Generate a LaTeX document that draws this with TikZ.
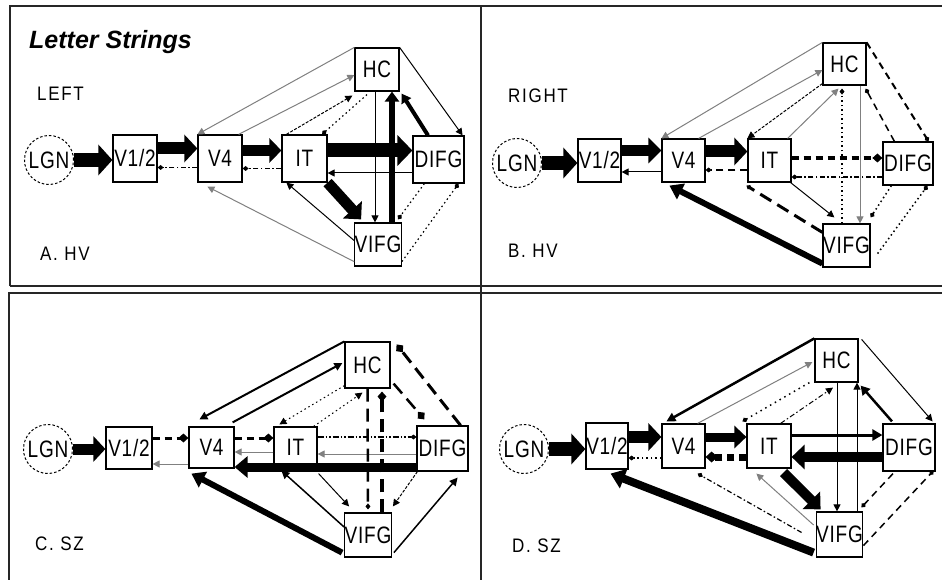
\documentclass[tikz,border=0pt]{standalone}
\usepackage{fontspec}
\usepackage{graphicx}
\setmainfont{Liberation Sans}
\newfontfamily\lab[LetterSpace=4]{Liberation Sans}
\newfontfamily\plab[LetterSpace=10]{Liberation Sans}
\newcommand{\boxlabel}[1]{\scalebox{1}[1.25]{#1}}
\newcommand{\panellabel}[1]{\scalebox{1}[1.15]{#1}}
\usetikzlibrary{arrows.meta}
\begin{document}
\begin{tikzpicture}[x=1pt,y=-1pt,
 bx/.style={draw, line width=1.2pt, fill=white, inner sep=0pt, font=\lab\fontsize{19pt}{19pt}\selectfont},
 lgn/.style={circle, draw, dash pattern=on 2.5pt off 2pt, line width=1pt, minimum size=49pt, inner sep=0pt, font=\lab\fontsize{19pt}{19pt}\selectfont},
 plbl/.style={anchor=base west, inner sep=0pt, font=\plab\fontsize{17pt}{17pt}\selectfont},
 arw/.style n args={3}{line width=#1,-{Triangle[length=#2,width=#3]}},
 tn/.style={line width=1pt,-{Triangle[length=7pt,width=7pt]}},
 gtn/.style={tn, draw=gray},
 dmd/.style={line width=#1,-{Diamond[length=6pt,width=5pt]}},
 dmdb/.style={line width=#1,-{Diamond[length=10pt,width=9pt]}},
 dotd/.style={dash pattern=on 1.5pt off 3pt},
 dashd/.style={dash pattern=on 7pt off 5pt},
 ldash/.style={dash pattern=on 13pt off 7pt},
 dashdot/.style={dash pattern=on 5pt off 2.5pt on 1.5pt off 2.5pt},
 dashdotdot/.style={dash pattern=on 6pt off 2pt on 1.5pt off 2pt on 1.5pt off 2pt},
 fined/.style={dash pattern=on 3pt off 1.5pt},
 frame/.style={line width=1.8pt, draw=black!85}
]
\fill[white] (0,0) rectangle (942,580);
\useasboundingbox (0,0) rectangle (942,580);
% frames
\draw[frame] (10,286) -- (10,6) -- (942,6);
\draw[frame] (10,286) -- (942,286);
\draw[frame] (9,580) -- (9,293) -- (942,293);
\draw[frame] (481,6) -- (481,580);

% ---------- Panel A ----------
\node[anchor=base west, inner sep=0pt, font=\fontsize{25pt}{25pt}\selectfont\bfseries\itshape] (ttl) at (29,49) {Letter Strings};
\node[plbl] (leftA) at (37,101) {\panellabel{LEFT}};
\node[plbl] (labA) at (40,260) {\panellabel{A. HV}};
\node[lgn] (lgnA) at (49,160) {\boxlabel{LGN}};
\node[bx, minimum width=44pt, minimum height=47pt] (v12A) at (135,158.5) {\boxlabel{V1/2}};
\node[bx, minimum width=44pt, minimum height=47pt] (v4A) at (220,158.5) {\boxlabel{V4}};
\node[bx, minimum width=45pt, minimum height=47pt] (itA) at (304.5,158.5) {\boxlabel{IT}};
\node[bx, minimum width=51pt, minimum height=47pt] (difgA) at (438.5,159.5) {\boxlabel{DIFG}};
\node[bx, minimum width=44pt, minimum height=43pt] (hcA) at (377,69.5) {\boxlabel{HC}};
\node[bx, minimum width=46pt, minimum height=43pt] (vifgA) at (378,244.5) {\boxlabel{VIFG}};

\draw[arw={14pt}{14pt}{30pt}] (lgnA.east) -- ([yshift=-1.5pt]v12A.west);
\draw[arw={12pt}{13pt}{27pt}] ([yshift=10pt]v12A.east) -- ([yshift=10pt]v4A.west);
\draw[dmd=1.2pt, dashdot] ([yshift=-9pt]v4A.west) -- ([yshift=-9pt]v12A.east);
\draw[arw={11pt}{12pt}{24pt}] ([yshift=8pt]v4A.east) -- ([yshift=8pt]itA.west);
\draw[dmd=1.2pt, dashdot] ([yshift=-10pt]itA.west) -- ([yshift=-10pt]v4A.east);
\draw[arw={14pt}{15pt}{30pt}] ([yshift=8pt]itA.east) -- ([yshift=9pt]difgA.west);
\draw[tn] ([yshift=-13.5pt]difgA.west) -- ([yshift=-14.5pt]itA.east);
\draw[gtn] (hcA.north west) -- (v4A.north west);
\draw[gtn] ([xshift=-4pt]v4A.north east) -- ([yshift=-5.5pt]hcA.west);
\draw[tn, fined] ([xshift=5pt]itA.north west) -- ([xshift=-2pt,yshift=-4pt]hcA.south west);
\draw[dmd=1.2pt, dotd] ([xshift=-10pt,yshift=-3pt]hcA.south) -- ([xshift=17.5pt]itA.north);
\draw[tn] ([xshift=-2pt]hcA.south) -- ([xshift=-3pt]vifgA.north);
\draw[arw={6pt}{10pt}{14pt}] ([xshift=14pt]vifgA.north) -- ([xshift=15pt]hcA.south);
\draw[arw={4pt}{9pt}{11pt}] ([xshift=-10.5pt]difgA.north) -- ([xshift=2pt,yshift=-2pt]hcA.south east);
\draw[tn] (hcA.north east) -- ([xshift=-2pt]difgA.north east);
\draw[arw={11pt}{13pt}{25pt}] (itA.south east) -- ([xshift=7pt,yshift=3pt]vifgA.north west);
\draw[tn] ([yshift=4pt]vifgA.west) -- ([xshift=5pt]itA.south west);
\draw[gtn] ([yshift=5pt]vifgA.south west) -- ([xshift=10pt,yshift=-4pt]v4A.south west);
\draw[dmd=1.2pt, dotd] ([xshift=12pt]difgA.south west) -- ([xshift=-4pt,yshift=3pt]vifgA.north east);
\draw[dmd=1.2pt, dotd] ([yshift=5pt]vifgA.south east) -- ([xshift=-6pt]difgA.south east);

% ---------- Panel B ----------
\node[plbl] (rightB) at (508,103) {\panellabel{RIGHT}};
\node[plbl] (labB) at (508,257) {\panellabel{B. HV}};
\node[lgn] (lgnB) at (517,163) {\boxlabel{LGN}};
\node[bx, minimum width=43pt, minimum height=43pt] (v12B) at (599.5,160.5) {\boxlabel{V1/2}};
\node[bx, minimum width=43pt, minimum height=43pt] (v4B) at (683.5,160.5) {\boxlabel{V4}};
\node[bx, minimum width=43pt, minimum height=43pt] (itB) at (769.5,160.5) {\boxlabel{IT}};
\node[bx, minimum width=50pt, minimum height=43pt] (difgB) at (908,163.5) {\boxlabel{DIFG}};
\node[bx, minimum width=43pt, minimum height=42pt] (hcB) at (844.5,64) {\boxlabel{HC}};
\node[bx, minimum width=47pt, minimum height=43pt] (vifgB) at (846.5,245.5) {\boxlabel{VIFG}};

\draw[arw={14pt}{14pt}{30pt}] (lgnB.east) -- ([yshift=-2.5pt]v12B.west);
\draw[arw={11pt}{13pt}{25pt}] ([yshift=10pt]v12B.east) -- ([yshift=10pt]v4B.west);
\draw[tn] ([yshift=-11.5pt]v4B.west) -- ([yshift=-11.5pt]v12B.east);
\draw[arw={12pt}{13pt}{27pt}] ([yshift=9pt]v4B.east) -- ([yshift=9pt]itB.west);
\draw[dmd=1.2pt, dashd] ([yshift=-9.5pt]itB.west) -- ([yshift=-9.5pt]v4B.east);
\draw[dmdb=4pt, dashd] ([yshift=2.5pt]itB.east) -- ([yshift=5.5pt]difgB.west);
\draw[dmd=1.2pt, dashdot] ([yshift=-13.5pt]difgB.west) -- ([yshift=-16.5pt]itB.east);
\draw[gtn] (hcB.north west) -- (v4B.north west);
\draw[gtn] ([xshift=-7pt]v4B.north east) -- ([yshift=-6pt]hcB.west);
\draw[tn, fined] ([yshift=2pt]hcB.south west) -- (itB.north west);
\draw[gtn] ([xshift=-4pt]itB.north east) -- ([xshift=-6pt,yshift=-3pt]hcB.south);
\draw[dmd=1.5pt, dotd] ([xshift=-4.5pt]vifgB.north) -- ([xshift=-2.5pt,yshift=-3pt]hcB.south);
\draw[gtn] ([xshift=15.5pt]hcB.south) -- ([xshift=13.5pt]vifgB.north);
\draw[dmd=1.5pt, dashd] ([xshift=12pt]difgB.north west) -- ([xshift=-1pt,yshift=-3pt]hcB.south east);
\draw[dmd=2pt, dashd] (hcB.north east) -- ([xshift=-5pt]difgB.north east);
\draw[tn] ([xshift=-1pt]itB.south east) -- ([xshift=12pt,yshift=6pt]vifgB.north west);
\draw[dmd=3pt, ldash] ([yshift=-9pt]vifgB.north west) -- ([xshift=-1pt,yshift=-3pt]itB.south west);
\draw[arw={6pt}{13pt}{17pt}] ([yshift=4pt]vifgB.south west) -- ([xshift=8pt,yshift=-3pt]v4B.south west);
\draw[dmd=1.5pt, dotd] ([xshift=9pt]difgB.south west) -- ([yshift=6pt]vifgB.north east);
\draw[dmd=1.5pt, dotd] ([xshift=7pt,yshift=14pt]vifgB.south east) -- ([xshift=-6pt]difgB.south east);

% ---------- Panel C ----------
\node[plbl] (labC) at (35,550) {\panellabel{C. SZ}};
\node[lgn] (lgnC) at (48,449) {\boxlabel{LGN}};
\node[bx, minimum width=46pt, minimum height=42pt] (v12C) at (129,448) {\boxlabel{V1/2}};
\node[bx, minimum width=45pt, minimum height=41pt] (v4C) at (211.5,447.5) {\boxlabel{V4}};
\node[bx, minimum width=43pt, minimum height=41pt] (itC) at (295.5,447.5) {\boxlabel{IT}};
\node[bx, minimum width=51pt, minimum height=45pt] (difgC) at (442.5,448.5) {\boxlabel{DIFG}};
\node[bx, minimum width=45pt, minimum height=46pt] (hcC) at (367.5,365) {\boxlabel{HC}};
\node[bx, minimum width=46pt, minimum height=44pt] (vifgC) at (368,535) {\boxlabel{VIFG}};

\draw[arw={11pt}{12pt}{25pt}] (lgnC.east) -- ([yshift=-1pt]v12C.west);
\draw[dmdb=3pt, dashd] ([yshift=10pt]v12C.east) -- ([yshift=9.5pt]v4C.west);
\draw[gtn] ([yshift=-16.5pt]v4C.west) -- ([yshift=-16pt]v12C.east);
\draw[dmdb=3pt, dashd] ([yshift=9.5pt]v4C.east) -- ([yshift=9.5pt]itC.west);
\draw[gtn] ([yshift=-4.5pt]itC.west) -- ([yshift=-4.5pt]v4C.east);
\draw[dmd=1.2pt, dashdotdot] ([yshift=10.5pt]itC.east) -- ([yshift=11.5pt]difgC.west);
\draw[gtn] ([yshift=-5.5pt]difgC.west) -- ([yshift=-6.5pt]itC.east);
\draw[arw={9pt}{13pt}{21pt}] ([yshift=-18.5pt]difgC.west) -- ([yshift=-19.5pt]v4C.east);
\draw[arw={2pt}{8pt}{8pt}] (hcC.north west) -- ([xshift=11pt,yshift=7pt]v4C.north west);
\draw[arw={2pt}{8pt}{8pt}] ([xshift=-2pt,yshift=4pt]v4C.north east) -- ([xshift=-2pt,yshift=2pt]hcC.west);
\draw[tn, dotd] ([yshift=3pt]hcC.south west) -- ([xshift=6pt,yshift=2pt]itC.north west);
\draw[tn, dotd] ([xshift=-4pt]itC.north east) -- ([xshift=-5pt,yshift=-4pt]hcC.south);
\draw[dmd=2.5pt, ldash] (hcC.south) -- ([yshift=3pt]vifgC.north);
\draw[dmdb=4pt, ldash] ([xshift=14pt]vifgC.north) -- ([xshift=14.5pt,yshift=-3pt]hcC.south);
\draw[dmdb=3pt, ldash] ([xshift=-8pt]difgC.north east) -- ([xshift=6pt,yshift=-3pt]hcC.north east);
\draw[dmdb=2.5pt, ldash] ([xshift=3pt,yshift=5pt]hcC.south east) -- ([xshift=8pt,yshift=6pt]difgC.north west);
\draw[tn] ([xshift=1pt,yshift=-5pt]itC.south east) -- ([xshift=5pt,yshift=6pt]vifgC.north west);
\draw[arw={1.5pt}{8pt}{8pt}] ([yshift=8pt]vifgC.west) -- ([xshift=8pt,yshift=-2pt]itC.south west);
\draw[arw={6pt}{13pt}{17pt}] ([xshift=-2pt,yshift=5pt]vifgC.south west) -- ([xshift=3pt,yshift=-5pt]v4C.south west);
\draw[tn, fined] ([xshift=1pt]difgC.south west) -- ([xshift=1pt,yshift=6pt]vifgC.north east);
\draw[arw={1.5pt}{8pt}{8pt}] ([xshift=2pt,yshift=5pt]vifgC.south east) -- ([xshift=-11pt,yshift=-6pt]difgC.south east);

% ---------- Panel D ----------
\node[plbl] (labD) at (512,552) {\panellabel{D. SZ}};
\node[lgn] (lgnD) at (524,449) {\boxlabel{LGN}};
\node[bx, minimum width=42pt, minimum height=46pt] (v12D) at (607,446) {\boxlabel{V1/2}};
\node[bx, minimum width=43pt, minimum height=44pt] (v4D) at (683.5,446) {\boxlabel{V4}};
\node[bx, minimum width=44pt, minimum height=44pt] (itD) at (769,446) {\boxlabel{IT}};
\node[bx, minimum width=52pt, minimum height=47pt] (difgD) at (909,447.5) {\boxlabel{DIFG}};
\node[bx, minimum width=43pt, minimum height=43pt] (hcD) at (836.5,360.5) {\boxlabel{HC}};
\node[bx, minimum width=45pt, minimum height=45pt] (vifgD) at (839.5,534.5) {\boxlabel{VIFG}};

\draw[arw={14pt}{14pt}{30pt}] (lgnD.east) -- ([yshift=-3pt]v12D.west);
\draw[arw={12pt}{13pt}{27pt}] ([yshift=9pt]v12D.east) -- ([yshift=9pt]v4D.west);
\draw[dmd=1.2pt, dotd] ([yshift=-12pt]v4D.west) -- ([yshift=-12pt]v12D.east);
\draw[arw={9pt}{12pt}{22pt}] ([yshift=9pt]v4D.east) -- ([yshift=9pt]itD.west);
\draw[line width=7pt, dash pattern=on 7pt off 5pt, -{Diamond[length=12pt,width=11pt]}] ([yshift=-11pt]itD.west) -- ([yshift=-11pt]v4D.east);
\draw[arw={3pt}{10pt}{11pt}] ([yshift=11pt]itD.east) -- ([yshift=12.5pt]difgD.west);
\draw[arw={10pt}{13pt}{24pt}] ([yshift=-9.5pt]difgD.west) -- ([yshift=-11pt]itD.east);
\draw[arw={2.5pt}{9pt}{9pt}] (hcD.north west) -- ([xshift=5pt,yshift=2pt]v4D.north west);
\draw[gtn] ([xshift=-8pt]v4D.north east) -- ([xshift=-2pt,yshift=-1.5pt]hcD.west);
\draw[dmd=1.5pt, dash pattern=on 1.5pt off 4pt] ([xshift=-5pt]hcD.south west) -- ([xshift=-4pt,yshift=2pt]itD.north west);
\draw[tn, dashdot] ([xshift=-11pt]itD.north east) -- ([xshift=-3.5pt,yshift=-5pt]hcD.south);
\draw[tn] ([xshift=0.5pt]hcD.south) -- ([xshift=-2.5pt]vifgD.north);
\draw[tn] ([xshift=17.5pt]vifgD.north) -- ([xshift=20.5pt]hcD.south);
\draw[arw={2.5pt}{9pt}{10pt}] ([xshift=-17pt,yshift=2pt]difgD.north) -- ([xshift=2pt,yshift=-3pt]hcD.south east);
\draw[tn] ([xshift=3pt,yshift=-1pt]hcD.north east) -- ([xshift=-3pt,yshift=2pt]difgD.north east);
\draw[arw={10pt}{13pt}{24pt}] ([xshift=-8pt,yshift=-4pt]itD.south east) -- ([xshift=5pt,yshift=2pt]vifgD.north west);
\draw[gtn] ([xshift=-2pt,yshift=9.5pt]vifgD.west) -- ([xshift=10pt,yshift=-5pt]itD.south west);
\draw[arw={8pt}{14pt}{20pt}] ([xshift=-2pt,yshift=5pt]vifgD.south west) -- ([xshift=-18pt,yshift=-4pt]v12D.south east);
\draw[dmd=1.2pt, dashdot] ([xshift=-14pt,yshift=2pt]vifgD.west) -- ([xshift=-8pt,yshift=-5pt]v4D.south east);
\draw[dmd=1.5pt, dashd] ([xshift=-16pt,yshift=-2pt]difgD.south) -- ([xshift=-2pt,yshift=4pt]vifgD.north east);
\draw[dmd=1.5pt, dashd] ([yshift=12pt]vifgD.south east) -- ([xshift=-2pt,yshift=1pt]difgD.south east);
\end{tikzpicture}
\end{document}
